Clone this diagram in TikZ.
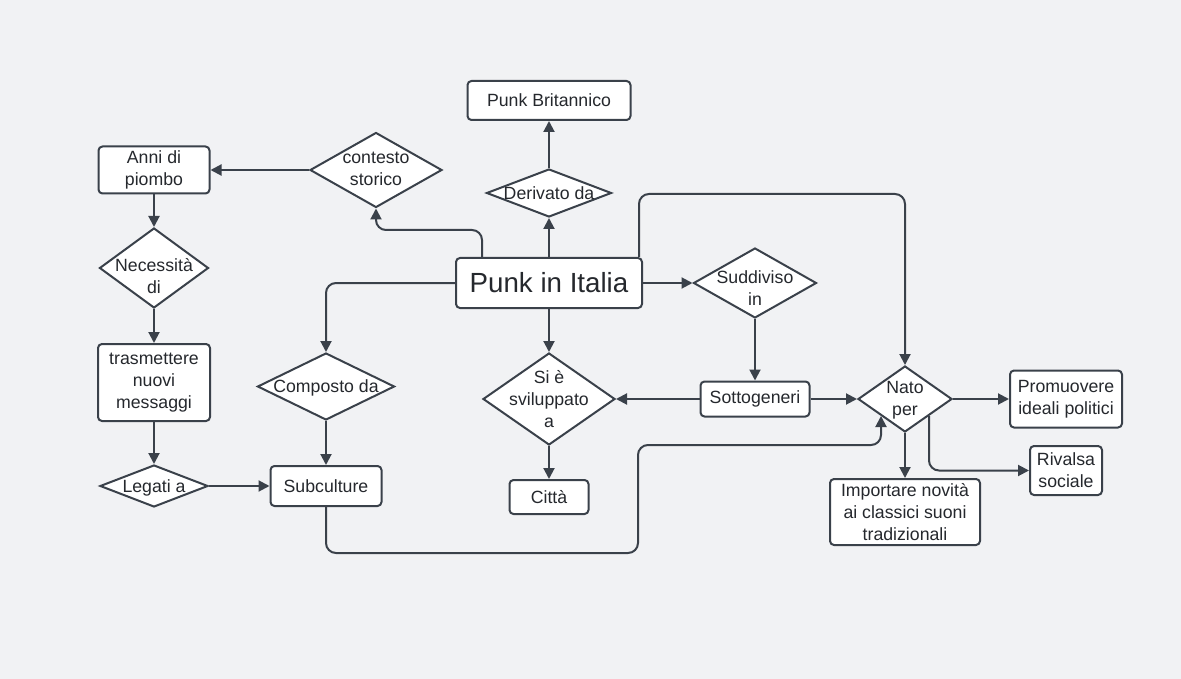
\documentclass[tikz,border=0pt]{standalone}
\usepackage{fontspec}
\setmainfont{Liberation Sans}
\usetikzlibrary{arrows.meta,shapes.geometric}
\definecolor{bg}{HTML}{F1F2F4}
\definecolor{ln}{HTML}{3A414A}
\definecolor{tx}{HTML}{25282D}
\newcommand\dtx[2][2]{\makebox[0pt]{\raisebox{\dimexpr-4.4pt-#1pt\relax}[0pt][0pt]{\begin{tabular}{@{}c@{}}#2\end{tabular}}}}
\begin{document}
\begin{tikzpicture}[x=1pt,y=-1pt,
 box/.style={draw=ln, fill=white, line width=2pt, rounded corners=4pt, inner sep=0pt, align=center, text=tx, font=\fontsize{17.7}{22}\selectfont},
 dia/.style={draw=ln, fill=white, line width=2pt, shape=diamond, inner sep=0pt, text=tx, font=\fontsize{17.7}{22}\selectfont},
 arr/.style={draw=ln, line width=2pt, -{Triangle[length=11pt,width=11pt]}, rounded corners=10pt},
]
\fill[bg] (0,0) rectangle (1181,679);
\useasboundingbox (0,0) rectangle (1181,679);

\node[box, minimum width=163, minimum height=39] (brit) at (549,100.5) {Punk Britannico};
\node[dia, minimum width=125, minimum height=48] (der) at (549,193) {\dtx{Derivato da}};
\node[box, minimum width=186, minimum height=50, font=\fontsize{27.7}{32}\selectfont] (pi) at (549,283) {Punk in Italia};
\node[dia, minimum width=123, minimum height=70] (sud) at (755,283) {\dtx[7]{Suddiviso\\in}};
\node[dia, minimum width=132, minimum height=75] (cont) at (376,170) {\dtx[0]{contesto\\storico}};
\node[box, minimum width=111, minimum height=47] (anni) at (154,170) {Anni di\\piombo};
\node[dia, minimum width=109, minimum height=80] (nec) at (154,268) {\dtx[10]{Necessità\\di}};
\node[box, minimum width=112, minimum height=77] (tras) at (154,382.5) {trasmettere\\nuovi\\messaggi};
\node[dia, minimum width=108, minimum height=42] (leg) at (154,486) {\dtx{Legati a}};
\node[box, minimum width=111, minimum height=40] (sub) at (326,486) {Subculture};
\node[dia, minimum width=137, minimum height=67] (comp) at (326,386.5) {\dtx{Composto da}};
\node[dia, minimum width=132, minimum height=92] (svil) at (549,399) {\dtx{Si è\\sviluppato\\a}};
\node[box, minimum width=79, minimum height=34] (citta) at (549,497) {Città};
\node[box, minimum width=109, minimum height=35] (sott) at (755,399) {Sottogeneri};
\node[dia, minimum width=94, minimum height=66] (nato) at (905,399) {\dtx[1]{Nato\\per}};
\node[box, minimum width=112, minimum height=57] (prom) at (1066,399) {Promuovere\\ideali politici};
\node[box, minimum width=72, minimum height=49] (riv) at (1066,470.5) {Rivalsa\\sociale};
\node[box, minimum width=150, minimum height=66] (imp) at (905,512) {Importare novità\\ai classici suoni\\tradizionali};

\coordinate (c1) at (638,553);
\coordinate (c2) at (638,445);

\draw[arr] (pi.north) -- (der.south);
\draw[arr] (der.north) -- (brit.south);
\draw[arr] ([xshift=27]pi.north west) -- ++(0,-27) -| (cont.south);
\draw[arr] (cont.west) -- (anni.east);
\draw[arr] (anni.south) -- (nec.north);
\draw[arr] (nec.south) -- (tras.north);
\draw[arr] (tras.south) -- (leg.north);
\draw[arr] (leg.east) -- (sub.west);
\draw[arr] (pi.west) -| (comp.north);
\draw[arr] (comp.south) -- (sub.north);
\draw[arr] (sub.south) |- (c1) -- (c2) -| (nato.south west);
\draw[arr] (pi.east) -- (sud.west);
\draw[arr] (sud.south) -- (sott.north);
\draw[arr] (sott.west) -- (svil.east);
\draw[arr] (sott.east) -- (nato.west);
\draw[arr] ([xshift=-4]pi.north east) -- ++(0,-63) -| (nato.north);
\draw[arr] (pi.south) -- (svil.north);
\draw[arr] (svil.south) -- (citta.north);
\draw[arr] (nato.east) -- (prom.west);
\draw[arr] (nato.south) -- (imp.north);
\draw[arr] (nato.south east) |- (riv.west);
\end{tikzpicture}
\end{document}
